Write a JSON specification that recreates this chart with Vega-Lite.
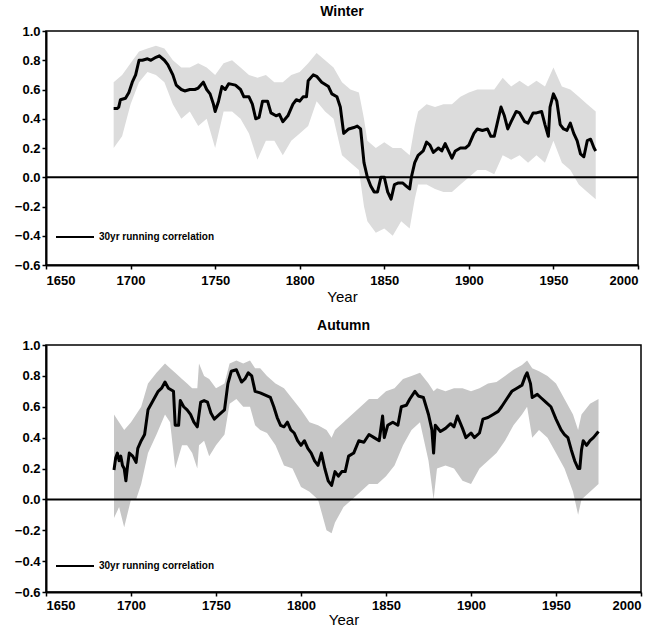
{
  "$schema": "https://vega.github.io/schema/vega-lite/v6.json",
  "background": "white",
  "padding": {"top": 4, "left": 13, "right": 9, "bottom": 0},
  "spacing": 13,
  "resolve": {"scale": {"color": "independent"}, "legend": {"color": "independent"}},
  "config": {
    "font": "Liberation Sans",
    "view": {"stroke": "black", "strokeWidth": 1.5},
    "axis": {
      "grid": false,
      "domainColor": "black",
      "domainWidth": 2,
      "tickColor": "black",
      "tickWidth": 1.5,
      "tickSize": 4,
      "labelOverlap": false,
      "labelFont": "Liberation Sans",
      "labelFontWeight": "bold",
      "labelFontSize": 13,
      "labelColor": "black",
      "titleFont": "Liberation Sans",
      "titleFontWeight": "normal",
      "titleFontSize": 15,
      "titleColor": "black"
    },
    "title": {"font": "Liberation Sans", "fontSize": 14, "fontWeight": "bold", "color": "black", "offset": 6},
    "legend": {
      "labelFont": "Liberation Sans",
      "labelFontWeight": "bold",
      "labelFontSize": 10,
      "labelColor": "black"
    }
  },
  "datasets": {
    "winter_line": [
      {"year": 1690, "r": 0.47}, {"year": 1692, "r": 0.47}, {"year": 1693, "r": 0.48}, {"year": 1694, "r": 0.53},
      {"year": 1697, "r": 0.54}, {"year": 1699, "r": 0.58}, {"year": 1701, "r": 0.65}, {"year": 1703, "r": 0.7},
      {"year": 1705, "r": 0.8}, {"year": 1707, "r": 0.8}, {"year": 1710, "r": 0.81}, {"year": 1712, "r": 0.8},
      {"year": 1715, "r": 0.82}, {"year": 1717, "r": 0.83}, {"year": 1720, "r": 0.8}, {"year": 1722, "r": 0.77},
      {"year": 1725, "r": 0.7}, {"year": 1727, "r": 0.63}, {"year": 1730, "r": 0.6}, {"year": 1732, "r": 0.59},
      {"year": 1735, "r": 0.6}, {"year": 1738, "r": 0.6}, {"year": 1740, "r": 0.61}, {"year": 1743, "r": 0.65},
      {"year": 1745, "r": 0.6}, {"year": 1747, "r": 0.57}, {"year": 1749, "r": 0.5}, {"year": 1750, "r": 0.45},
      {"year": 1752, "r": 0.52}, {"year": 1754, "r": 0.62}, {"year": 1756, "r": 0.6}, {"year": 1758, "r": 0.64},
      {"year": 1762, "r": 0.63}, {"year": 1765, "r": 0.6}, {"year": 1767, "r": 0.55}, {"year": 1770, "r": 0.55},
      {"year": 1772, "r": 0.5}, {"year": 1774, "r": 0.4}, {"year": 1776, "r": 0.41}, {"year": 1778, "r": 0.52},
      {"year": 1781, "r": 0.52}, {"year": 1783, "r": 0.44}, {"year": 1786, "r": 0.42}, {"year": 1788, "r": 0.43},
      {"year": 1790, "r": 0.38}, {"year": 1793, "r": 0.42}, {"year": 1796, "r": 0.5}, {"year": 1798, "r": 0.53},
      {"year": 1800, "r": 0.52}, {"year": 1802, "r": 0.55}, {"year": 1804, "r": 0.55}, {"year": 1805, "r": 0.66},
      {"year": 1808, "r": 0.7}, {"year": 1810, "r": 0.69}, {"year": 1813, "r": 0.65}, {"year": 1817, "r": 0.62},
      {"year": 1819, "r": 0.57}, {"year": 1822, "r": 0.55}, {"year": 1824, "r": 0.48}, {"year": 1826, "r": 0.3},
      {"year": 1829, "r": 0.33}, {"year": 1832, "r": 0.34}, {"year": 1834, "r": 0.35}, {"year": 1836, "r": 0.33},
      {"year": 1838, "r": 0.1}, {"year": 1840, "r": 0.0}, {"year": 1842, "r": -0.06}, {"year": 1844, "r": -0.1},
      {"year": 1846, "r": -0.1}, {"year": 1848, "r": 0.0}, {"year": 1850, "r": 0.0}, {"year": 1852, "r": -0.1},
      {"year": 1854, "r": -0.15}, {"year": 1856, "r": -0.05}, {"year": 1858, "r": -0.04}, {"year": 1861, "r": -0.04},
      {"year": 1863, "r": -0.06}, {"year": 1865, "r": -0.08}, {"year": 1866, "r": 0.0}, {"year": 1868, "r": 0.1},
      {"year": 1870, "r": 0.15}, {"year": 1873, "r": 0.18}, {"year": 1875, "r": 0.24}, {"year": 1877, "r": 0.22},
      {"year": 1879, "r": 0.17}, {"year": 1882, "r": 0.2}, {"year": 1884, "r": 0.18}, {"year": 1886, "r": 0.23},
      {"year": 1888, "r": 0.18}, {"year": 1890, "r": 0.13}, {"year": 1892, "r": 0.18}, {"year": 1895, "r": 0.2},
      {"year": 1898, "r": 0.2}, {"year": 1900, "r": 0.22}, {"year": 1903, "r": 0.3}, {"year": 1905, "r": 0.33},
      {"year": 1908, "r": 0.32}, {"year": 1911, "r": 0.33}, {"year": 1913, "r": 0.28}, {"year": 1915, "r": 0.28},
      {"year": 1917, "r": 0.38}, {"year": 1919, "r": 0.48}, {"year": 1921, "r": 0.42}, {"year": 1923, "r": 0.33},
      {"year": 1925, "r": 0.38}, {"year": 1928, "r": 0.45}, {"year": 1930, "r": 0.44}, {"year": 1933, "r": 0.38},
      {"year": 1935, "r": 0.37}, {"year": 1938, "r": 0.44}, {"year": 1940, "r": 0.44}, {"year": 1943, "r": 0.45},
      {"year": 1945, "r": 0.36}, {"year": 1947, "r": 0.28}, {"year": 1948, "r": 0.48}, {"year": 1950, "r": 0.57},
      {"year": 1952, "r": 0.52}, {"year": 1954, "r": 0.36}, {"year": 1956, "r": 0.33}, {"year": 1958, "r": 0.32},
      {"year": 1960, "r": 0.37}, {"year": 1962, "r": 0.3}, {"year": 1964, "r": 0.25}, {"year": 1966, "r": 0.16},
      {"year": 1968, "r": 0.14}, {"year": 1970, "r": 0.25}, {"year": 1972, "r": 0.26}, {"year": 1974, "r": 0.2},
      {"year": 1975, "r": 0.18}
    ],
    "winter_band": [
      {"year": 1690, "hi": 0.65, "lo": 0.2}, {"year": 1695, "hi": 0.7, "lo": 0.28}, {"year": 1700, "hi": 0.78, "lo": 0.5},
      {"year": 1705, "hi": 0.86, "lo": 0.65}, {"year": 1710, "hi": 0.88, "lo": 0.72}, {"year": 1715, "hi": 0.9, "lo": 0.7},
      {"year": 1720, "hi": 0.88, "lo": 0.65}, {"year": 1725, "hi": 0.8, "lo": 0.5}, {"year": 1730, "hi": 0.75, "lo": 0.4},
      {"year": 1735, "hi": 0.75, "lo": 0.45}, {"year": 1740, "hi": 0.78, "lo": 0.35}, {"year": 1745, "hi": 0.75, "lo": 0.4},
      {"year": 1750, "hi": 0.7, "lo": 0.2}, {"year": 1755, "hi": 0.78, "lo": 0.45}, {"year": 1760, "hi": 0.8, "lo": 0.45},
      {"year": 1765, "hi": 0.75, "lo": 0.4}, {"year": 1770, "hi": 0.7, "lo": 0.3}, {"year": 1775, "hi": 0.68, "lo": 0.12},
      {"year": 1780, "hi": 0.7, "lo": 0.25}, {"year": 1785, "hi": 0.65, "lo": 0.25}, {"year": 1790, "hi": 0.65, "lo": 0.15},
      {"year": 1795, "hi": 0.7, "lo": 0.25}, {"year": 1800, "hi": 0.72, "lo": 0.3}, {"year": 1805, "hi": 0.78, "lo": 0.35},
      {"year": 1810, "hi": 0.85, "lo": 0.52}, {"year": 1815, "hi": 0.8, "lo": 0.45}, {"year": 1820, "hi": 0.75, "lo": 0.4},
      {"year": 1825, "hi": 0.65, "lo": 0.15}, {"year": 1830, "hi": 0.6, "lo": 0.1}, {"year": 1835, "hi": 0.58, "lo": 0.05},
      {"year": 1838, "hi": 0.4, "lo": -0.2}, {"year": 1840, "hi": 0.25, "lo": -0.3}, {"year": 1845, "hi": 0.2, "lo": -0.38},
      {"year": 1850, "hi": 0.24, "lo": -0.35}, {"year": 1855, "hi": 0.2, "lo": -0.4}, {"year": 1860, "hi": 0.2, "lo": -0.3},
      {"year": 1865, "hi": 0.15, "lo": -0.35}, {"year": 1868, "hi": 0.35, "lo": -0.15}, {"year": 1870, "hi": 0.45, "lo": -0.05},
      {"year": 1875, "hi": 0.5, "lo": -0.05}, {"year": 1880, "hi": 0.48, "lo": -0.08}, {"year": 1885, "hi": 0.5, "lo": -0.1},
      {"year": 1890, "hi": 0.5, "lo": -0.1}, {"year": 1895, "hi": 0.55, "lo": -0.05}, {"year": 1900, "hi": 0.58, "lo": 0.0},
      {"year": 1905, "hi": 0.6, "lo": 0.05}, {"year": 1910, "hi": 0.6, "lo": 0.05}, {"year": 1915, "hi": 0.6, "lo": 0.02},
      {"year": 1920, "hi": 0.68, "lo": 0.15}, {"year": 1925, "hi": 0.62, "lo": 0.12}, {"year": 1930, "hi": 0.66, "lo": 0.15},
      {"year": 1935, "hi": 0.62, "lo": 0.1}, {"year": 1940, "hi": 0.66, "lo": 0.15}, {"year": 1945, "hi": 0.62, "lo": 0.1},
      {"year": 1950, "hi": 0.75, "lo": 0.25}, {"year": 1955, "hi": 0.62, "lo": 0.1}, {"year": 1960, "hi": 0.6, "lo": 0.05},
      {"year": 1965, "hi": 0.55, "lo": -0.05}, {"year": 1970, "hi": 0.5, "lo": -0.1}, {"year": 1975, "hi": 0.45, "lo": -0.15}
    ],
    "autumn_line": [
      {"year": 1690, "r": 0.19}, {"year": 1691, "r": 0.27}, {"year": 1692, "r": 0.3}, {"year": 1693, "r": 0.25},
      {"year": 1694, "r": 0.28}, {"year": 1695, "r": 0.22}, {"year": 1696, "r": 0.2}, {"year": 1697, "r": 0.12},
      {"year": 1698, "r": 0.22}, {"year": 1699, "r": 0.3}, {"year": 1701, "r": 0.28}, {"year": 1703, "r": 0.24},
      {"year": 1704, "r": 0.33}, {"year": 1706, "r": 0.38}, {"year": 1708, "r": 0.42}, {"year": 1710, "r": 0.58},
      {"year": 1713, "r": 0.64}, {"year": 1716, "r": 0.7}, {"year": 1718, "r": 0.72}, {"year": 1720, "r": 0.76},
      {"year": 1722, "r": 0.72}, {"year": 1725, "r": 0.7}, {"year": 1726, "r": 0.48}, {"year": 1728, "r": 0.48},
      {"year": 1729, "r": 0.64}, {"year": 1731, "r": 0.6}, {"year": 1733, "r": 0.58}, {"year": 1735, "r": 0.55},
      {"year": 1737, "r": 0.5}, {"year": 1739, "r": 0.47}, {"year": 1741, "r": 0.63}, {"year": 1743, "r": 0.64},
      {"year": 1745, "r": 0.63}, {"year": 1747, "r": 0.56}, {"year": 1749, "r": 0.52}, {"year": 1752, "r": 0.55},
      {"year": 1755, "r": 0.58}, {"year": 1757, "r": 0.75}, {"year": 1759, "r": 0.83}, {"year": 1762, "r": 0.84},
      {"year": 1765, "r": 0.76}, {"year": 1767, "r": 0.78}, {"year": 1769, "r": 0.82}, {"year": 1771, "r": 0.8},
      {"year": 1773, "r": 0.7}, {"year": 1776, "r": 0.69}, {"year": 1780, "r": 0.67}, {"year": 1782, "r": 0.66},
      {"year": 1784, "r": 0.6}, {"year": 1786, "r": 0.53}, {"year": 1788, "r": 0.48}, {"year": 1790, "r": 0.47},
      {"year": 1792, "r": 0.5}, {"year": 1794, "r": 0.45}, {"year": 1796, "r": 0.43}, {"year": 1798, "r": 0.38},
      {"year": 1800, "r": 0.35}, {"year": 1802, "r": 0.38}, {"year": 1804, "r": 0.33}, {"year": 1806, "r": 0.3},
      {"year": 1808, "r": 0.25}, {"year": 1810, "r": 0.22}, {"year": 1812, "r": 0.3}, {"year": 1814, "r": 0.2},
      {"year": 1816, "r": 0.12}, {"year": 1818, "r": 0.09}, {"year": 1820, "r": 0.18}, {"year": 1822, "r": 0.15},
      {"year": 1824, "r": 0.18}, {"year": 1826, "r": 0.18}, {"year": 1828, "r": 0.28}, {"year": 1831, "r": 0.3},
      {"year": 1834, "r": 0.38}, {"year": 1837, "r": 0.37}, {"year": 1840, "r": 0.42}, {"year": 1843, "r": 0.4},
      {"year": 1846, "r": 0.38}, {"year": 1848, "r": 0.54}, {"year": 1849, "r": 0.4}, {"year": 1851, "r": 0.48},
      {"year": 1854, "r": 0.5}, {"year": 1857, "r": 0.48}, {"year": 1859, "r": 0.6}, {"year": 1862, "r": 0.61},
      {"year": 1864, "r": 0.65}, {"year": 1867, "r": 0.7}, {"year": 1869, "r": 0.67}, {"year": 1872, "r": 0.66},
      {"year": 1875, "r": 0.55}, {"year": 1877, "r": 0.45}, {"year": 1878, "r": 0.3}, {"year": 1879, "r": 0.48},
      {"year": 1882, "r": 0.44}, {"year": 1885, "r": 0.46}, {"year": 1888, "r": 0.49}, {"year": 1890, "r": 0.47},
      {"year": 1892, "r": 0.54}, {"year": 1895, "r": 0.46}, {"year": 1897, "r": 0.4}, {"year": 1900, "r": 0.43},
      {"year": 1902, "r": 0.4}, {"year": 1905, "r": 0.43}, {"year": 1907, "r": 0.52}, {"year": 1910, "r": 0.53},
      {"year": 1913, "r": 0.55}, {"year": 1916, "r": 0.57}, {"year": 1918, "r": 0.6}, {"year": 1921, "r": 0.65},
      {"year": 1924, "r": 0.7}, {"year": 1927, "r": 0.72}, {"year": 1930, "r": 0.74}, {"year": 1932, "r": 0.8},
      {"year": 1933, "r": 0.82}, {"year": 1935, "r": 0.75}, {"year": 1936, "r": 0.66}, {"year": 1939, "r": 0.68},
      {"year": 1941, "r": 0.66}, {"year": 1944, "r": 0.63}, {"year": 1947, "r": 0.6}, {"year": 1950, "r": 0.52},
      {"year": 1953, "r": 0.45}, {"year": 1955, "r": 0.42}, {"year": 1957, "r": 0.4}, {"year": 1959, "r": 0.32},
      {"year": 1961, "r": 0.25}, {"year": 1963, "r": 0.2}, {"year": 1964, "r": 0.2}, {"year": 1965, "r": 0.32},
      {"year": 1966, "r": 0.38}, {"year": 1968, "r": 0.35}, {"year": 1970, "r": 0.38}, {"year": 1972, "r": 0.4},
      {"year": 1975, "r": 0.44}
    ],
    "autumn_band": [
      {"year": 1690, "hi": 0.55, "lo": -0.12}, {"year": 1693, "hi": 0.5, "lo": -0.05}, {"year": 1696, "hi": 0.45, "lo": -0.18},
      {"year": 1700, "hi": 0.5, "lo": 0.0}, {"year": 1703, "hi": 0.55, "lo": 0.0}, {"year": 1706, "hi": 0.6, "lo": 0.1},
      {"year": 1710, "hi": 0.75, "lo": 0.3}, {"year": 1715, "hi": 0.82, "lo": 0.42}, {"year": 1720, "hi": 0.88, "lo": 0.55},
      {"year": 1723, "hi": 0.85, "lo": 0.5}, {"year": 1726, "hi": 0.82, "lo": 0.2}, {"year": 1730, "hi": 0.78, "lo": 0.35},
      {"year": 1733, "hi": 0.75, "lo": 0.35}, {"year": 1736, "hi": 0.72, "lo": 0.3}, {"year": 1739, "hi": 0.72, "lo": 0.2},
      {"year": 1740, "hi": 0.88, "lo": 0.35}, {"year": 1743, "hi": 0.8, "lo": 0.38}, {"year": 1746, "hi": 0.78, "lo": 0.28},
      {"year": 1750, "hi": 0.72, "lo": 0.35}, {"year": 1755, "hi": 0.75, "lo": 0.42}, {"year": 1758, "hi": 0.88, "lo": 0.62},
      {"year": 1762, "hi": 0.9, "lo": 0.65}, {"year": 1766, "hi": 0.88, "lo": 0.6}, {"year": 1770, "hi": 0.9, "lo": 0.6},
      {"year": 1773, "hi": 0.85, "lo": 0.48}, {"year": 1776, "hi": 0.85, "lo": 0.45}, {"year": 1780, "hi": 0.8, "lo": 0.43},
      {"year": 1785, "hi": 0.75, "lo": 0.35}, {"year": 1790, "hi": 0.72, "lo": 0.22}, {"year": 1795, "hi": 0.65, "lo": 0.2},
      {"year": 1800, "hi": 0.58, "lo": 0.08}, {"year": 1805, "hi": 0.5, "lo": 0.05}, {"year": 1810, "hi": 0.48, "lo": 0.0},
      {"year": 1815, "hi": 0.45, "lo": -0.2}, {"year": 1818, "hi": 0.4, "lo": -0.22}, {"year": 1820, "hi": 0.45, "lo": -0.15},
      {"year": 1825, "hi": 0.5, "lo": -0.05}, {"year": 1830, "hi": 0.55, "lo": 0.0}, {"year": 1835, "hi": 0.6, "lo": 0.05},
      {"year": 1840, "hi": 0.65, "lo": 0.1}, {"year": 1845, "hi": 0.65, "lo": 0.1}, {"year": 1850, "hi": 0.7, "lo": 0.15},
      {"year": 1855, "hi": 0.72, "lo": 0.22}, {"year": 1860, "hi": 0.78, "lo": 0.35}, {"year": 1865, "hi": 0.8, "lo": 0.45},
      {"year": 1870, "hi": 0.82, "lo": 0.5}, {"year": 1875, "hi": 0.75, "lo": 0.25}, {"year": 1878, "hi": 0.7, "lo": 0.0},
      {"year": 1880, "hi": 0.72, "lo": 0.2}, {"year": 1885, "hi": 0.7, "lo": 0.22}, {"year": 1890, "hi": 0.72, "lo": 0.2},
      {"year": 1895, "hi": 0.72, "lo": 0.12}, {"year": 1900, "hi": 0.7, "lo": 0.1}, {"year": 1905, "hi": 0.72, "lo": 0.2},
      {"year": 1910, "hi": 0.75, "lo": 0.25}, {"year": 1915, "hi": 0.76, "lo": 0.3}, {"year": 1920, "hi": 0.8, "lo": 0.38},
      {"year": 1925, "hi": 0.84, "lo": 0.48}, {"year": 1930, "hi": 0.87, "lo": 0.55}, {"year": 1933, "hi": 0.9, "lo": 0.6},
      {"year": 1936, "hi": 0.85, "lo": 0.4}, {"year": 1940, "hi": 0.83, "lo": 0.45}, {"year": 1945, "hi": 0.8, "lo": 0.4},
      {"year": 1950, "hi": 0.75, "lo": 0.3}, {"year": 1955, "hi": 0.65, "lo": 0.2}, {"year": 1960, "hi": 0.55, "lo": 0.05},
      {"year": 1963, "hi": 0.45, "lo": -0.1}, {"year": 1965, "hi": 0.55, "lo": 0.0}, {"year": 1970, "hi": 0.62, "lo": 0.05},
      {"year": 1975, "hi": 0.65, "lo": 0.1}
    ]
  },
  "vconcat": [
    {
      "title": "Winter",
      "width": 592,
      "height": 234,
      "layer": [
        {
          "data": {"name": "winter_band"},
          "mark": {"type": "area", "color": "#dcdcdc", "opacity": 1},
          "encoding": {
            "x": {"field": "year", "type": "quantitative", "title": "Year",
                  "scale": {"domain": [1650, 2000], "nice": false},
                  "axis": {"values": [1650, 1700, 1750, 1800, 1850, 1900, 1950, 2000], "labelOverlap": false, "labelPadding": 5, "titlePadding": 2, "format": "d"}},
            "y": {"field": "hi", "type": "quantitative", "title": null,
                  "scale": {"domain": [-0.6, 1.0], "nice": false, "zero": false},
                  "axis": {"values": [-0.6, -0.4, -0.2, 0, 0.2, 0.4, 0.6, 0.8, 1.0], "labelOverlap": false, "format": ".1f", "labelPadding": 2}},
            "y2": {"field": "lo"}
          }
        },
        {
          "data": {"values": [{"v": 0}]},
          "mark": {"type": "rule", "color": "black", "strokeWidth": 2},
          "encoding": {"y": {"field": "v", "type": "quantitative", "title": null,
                  "axis": {"values": [-0.6, -0.4, -0.2, 0, 0.2, 0.4, 0.6, 0.8, 1.0], "labelOverlap": false, "format": ".1f", "labelPadding": 2}}}
        },
        {
          "data": {"name": "winter_line"},
          "mark": {"type": "line", "strokeWidth": 3, "strokeJoin": "round"},
          "encoding": {
            "x": {"field": "year", "type": "quantitative", "title": "Year",
                  "axis": {"values": [1650, 1700, 1750, 1800, 1850, 1900, 1950, 2000], "labelOverlap": false, "labelPadding": 5, "titlePadding": 2, "format": "d"}},
            "y": {"field": "r", "type": "quantitative", "title": null,
                  "axis": {"values": [-0.6, -0.4, -0.2, 0, 0.2, 0.4, 0.6, 0.8, 1.0], "labelOverlap": false, "format": ".1f", "labelPadding": 2}},
            "color": {"datum": "30yr running correlation", "type": "nominal",
                      "scale": {"domain": ["30yr running correlation"], "range": ["black"]},
                      "legend": {"title": null, "orient": "none", "legendX": 9, "legendY": 186,
                                 "symbolType": "stroke", "symbolStrokeWidth": 2, "symbolSize": 1444, "labelOffset": 4}}
          }
        }
      ]
    },
    {
      "title": "Autumn",
      "width": 595,
      "height": 247,
      "layer": [
        {
          "data": {"name": "autumn_band"},
          "mark": {"type": "area", "color": "#c6c6c6", "opacity": 1},
          "encoding": {
            "x": {"field": "year", "type": "quantitative", "title": "Year",
                  "scale": {"domain": [1650, 2000], "nice": false},
                  "axis": {"values": [1650, 1700, 1750, 1800, 1850, 1900, 1950, 2000], "labelOverlap": false, "labelPadding": 3, "titlePadding": 0, "format": "d"}},
            "y": {"field": "hi", "type": "quantitative", "title": null,
                  "scale": {"domain": [-0.6, 1.0], "nice": false, "zero": false},
                  "axis": {"values": [-0.6, -0.4, -0.2, 0, 0.2, 0.4, 0.6, 0.8, 1.0], "labelOverlap": false, "format": ".1f", "labelPadding": 2}},
            "y2": {"field": "lo"}
          }
        },
        {
          "data": {"values": [{"v": 0}]},
          "mark": {"type": "rule", "color": "black", "strokeWidth": 2},
          "encoding": {"y": {"field": "v", "type": "quantitative", "title": null,
                  "axis": {"values": [-0.6, -0.4, -0.2, 0, 0.2, 0.4, 0.6, 0.8, 1.0], "labelOverlap": false, "format": ".1f", "labelPadding": 2}}}
        },
        {
          "data": {"name": "autumn_line"},
          "mark": {"type": "line", "strokeWidth": 3, "strokeJoin": "round"},
          "encoding": {
            "x": {"field": "year", "type": "quantitative", "title": "Year",
                  "axis": {"values": [1650, 1700, 1750, 1800, 1850, 1900, 1950, 2000], "labelOverlap": false, "labelPadding": 3, "titlePadding": 0, "format": "d"}},
            "y": {"field": "r", "type": "quantitative", "title": null,
                  "axis": {"values": [-0.6, -0.4, -0.2, 0, 0.2, 0.4, 0.6, 0.8, 1.0], "labelOverlap": false, "format": ".1f", "labelPadding": 2}},
            "color": {"datum": "30yr running correlation", "type": "nominal",
                      "scale": {"domain": ["30yr running correlation"], "range": ["black"]},
                      "legend": {"title": null, "orient": "none", "legendX": 9, "legendY": 201,
                                 "symbolType": "stroke", "symbolStrokeWidth": 2, "symbolSize": 1444, "labelOffset": 4}}
          }
        }
      ]
    }
  ]
}
